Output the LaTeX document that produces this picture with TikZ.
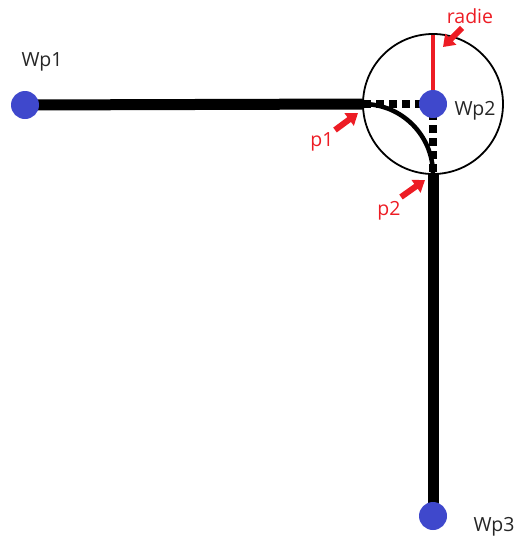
\documentclass[tikz,border=0pt]{standalone}
\usepackage{fontspec}
\setmainfont{Open Sans}
\usetikzlibrary{positioning,arrows.meta}
\definecolor{wpblue}{RGB}{63,72,204}
\definecolor{markred}{RGB}{237,28,36}
\tikzset{
  wp/.style={circle, fill=wpblue, minimum size=28pt, inner sep=0pt},
  wplabel/.style={font=\fontsize{19.5}{22}\selectfont, text=black!85},
  redlabel/.style={font=\fontsize{19.5}{22}\selectfont, text=markred},
  route/.style={line width=11pt},
  redarrow/.style={-{Triangle[length=11pt,width=15pt]}, line width=6pt, markred}
}
\begin{document}
\begin{tikzpicture}[x=1pt,y=-1pt]
  \useasboundingbox (0,0) rectangle (520,544);
  \node[circle, draw, line width=1.8pt, minimum size=140pt, inner sep=0pt] (turn) at (433,104) {};
  \coordinate (p1) at (363,104);
  \coordinate (p2) at (433,174);
  \coordinate (top) at (433,35);
  % legs of the route
  \draw[route] (25,105) -- (p1);
  \draw[route] (p2) -- (433,516);
  \draw[line width=4.5pt] (p1) arc[start angle=-90, end angle=0, radius=70];
  \draw[line width=8pt, dash pattern=on 8pt off 5pt] (p1) -- (433,104) -- (p2);
  \draw[line width=3.5pt, markred] (top) -- (433,104);
  \node[wp] (wp1) at (25,105) {};
  \node[wp] (wp2) at (433,104) {};
  \node[wp] (wp3) at (433,516) {};
  \node[wplabel] at (42,62) {Wp1};
  \node[wplabel] at (475,111) {Wp2};
  \node[wplabel] at (494,527) {Wp3};
  % markers
  \node[redlabel] (radie) at (470,16) {radie};
  \node[redlabel] (lp1) at (322,142) {p1};
  \node[redlabel] (lp2) at (389,211) {p2};
  \draw[redarrow] (462,28) -- (443,47);
  \draw[redarrow] (335,130) -- (358,113);
  \draw[redarrow] (401,197) -- (425,180);
\end{tikzpicture}
\end{document}
